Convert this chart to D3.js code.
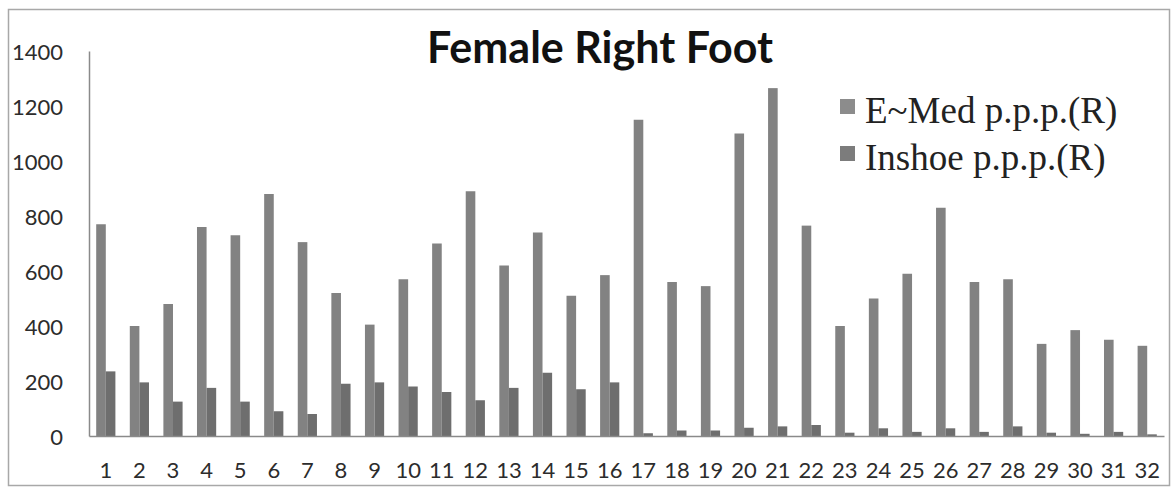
<!DOCTYPE html>
<html>
<head>
  <meta charset="utf-8">
  <title>Female Right Foot</title>
  <script src="https://d3js.org/d3.v7.min.js" charset="utf-8"></script>
  <style>
  body {margin: 0; background: #fff;}
  svg {display: block;}
  .tick-label {font-family: Lato, "Open Sans", sans-serif; font-size: 22px; fill: #2c2c2c;}
  .legend text {font-family: "Liberation Serif", "DejaVu Serif", serif; font-size: 37px; fill: #222;}
  </style>
</head>
<body>
<script>
  // values
  const subjects = d3.range(1, 33);
  const emed = [770, 400, 480, 760, 730, 880, 705, 520, 405, 570,
                700, 890, 620, 740, 510, 585, 1150, 560, 545, 1100,
                1265, 765, 400, 500, 590, 830, 560, 570, 335, 385, 350, 328];
  const inshoe = [235, 195, 125, 175, 125, 90, 80, 190, 195, 180,
                  160, 130, 175, 230, 170, 195, 10, 20, 20, 30,
                  35, 40, 12, 28, 15, 28, 15, 35, 12, 8, 15, 6];
  const seriesNames = ["E~Med p.p.p.(R)", "Inshoe p.p.p.(R)"];
  const yTicks = [0, 200, 400, 600, 800, 1000, 1200, 1400];

  const width = 1173, height = 489;
  const colors = {emed: "#828282", inshoe: "#6e6e6e"};

  const svg = d3.select("body").append("svg")
                .attr("width", width)
                .attr("height", height);

  // outer frame
  svg.append("rect")
     .attr("x", 8.5).attr("y", 9.5)
     .attr("width", 1161).attr("height", 476)
     .attr("fill", "none")
     .attr("stroke", "#a8a8a8")
     .attr("stroke-width", 1.5);

  const xScale = d3.scaleBand().domain(subjects).range([89, 1164]).padding(0);
  const xSub = d3.scaleBand().domain(["emed", "inshoe"])
                 .range([0, xScale.bandwidth()])
                 .paddingInner(0).paddingOuter(0.75);
  const yScale = d3.scaleLinear().domain([0, 1400]).range([436, 51]);

  const rows = subjects.map((s, i) => ({s: s, emed: emed[i], inshoe: inshoe[i]}));

  // bars
  const groups = svg.selectAll("g.subject")
                    .data(rows)
                    .join("g")
                    .attr("class", "subject")
                    .attr("transform", d => `translate(${xScale(d.s)},0)`);

  groups.selectAll("rect")
        .data(d => ["emed", "inshoe"].map(k => ({k: k, v: d[k]})))
        .join("rect")
        .attr("x", d => xSub(d.k))
        .attr("width", xSub.bandwidth())
        .attr("y", d => yScale(d.v))
        .attr("height", d => yScale(0) - yScale(d.v))
        .attr("fill", d => colors[d.k]);

  // axes
  const yAxis = d3.axisLeft(yScale).tickValues(yTicks).tickFormat(d3.format("d"))
                  .tickSize(0).tickPadding(26);
  const gy = svg.append("g").attr("transform", "translate(89,0)").call(yAxis);
  gy.select(".domain").attr("stroke", "#8a8a8a").attr("stroke-width", 1.5);
  gy.selectAll("text").attr("class", "tick-label").attr("dy", "0.4em");

  const xAxis = d3.axisBottom(xScale).tickSize(0).tickPadding(26);
  const gx = svg.append("g").attr("transform", `translate(0,${yScale(0)})`).call(xAxis);
  gx.select(".domain").attr("stroke", "#8a8a8a").attr("stroke-width", 1.5);
  gx.selectAll("text").attr("class", "tick-label");

  // title
  svg.append("text")
     .attr("x", 600).attr("y", 63)
     .attr("text-anchor", "middle")
     .attr("font-family", "Lato, 'Open Sans', sans-serif")
     .attr("font-weight", "bold")
     .attr("font-size", 43)
     .attr("fill", "#111")
     .text("Female Right Foot");

  // legend
  const legend = svg.append("g").attr("class", "legend");
  legend.selectAll("rect")
        .data(["emed", "inshoe"])
        .join("rect")
        .attr("x", 840)
        .attr("y", (d, i) => 99 + i * 47)
        .attr("width", 15).attr("height", 15)
        .attr("fill", d => d === "emed" ? "#8c8c8c" : "#7c7c7c");
  legend.selectAll("text")
        .data(seriesNames)
        .join("text")
        .attr("x", 865)
        .attr("y", (d, i) => 123 + i * 47)
        .text(d => d);
</script>
</body>
</html>
